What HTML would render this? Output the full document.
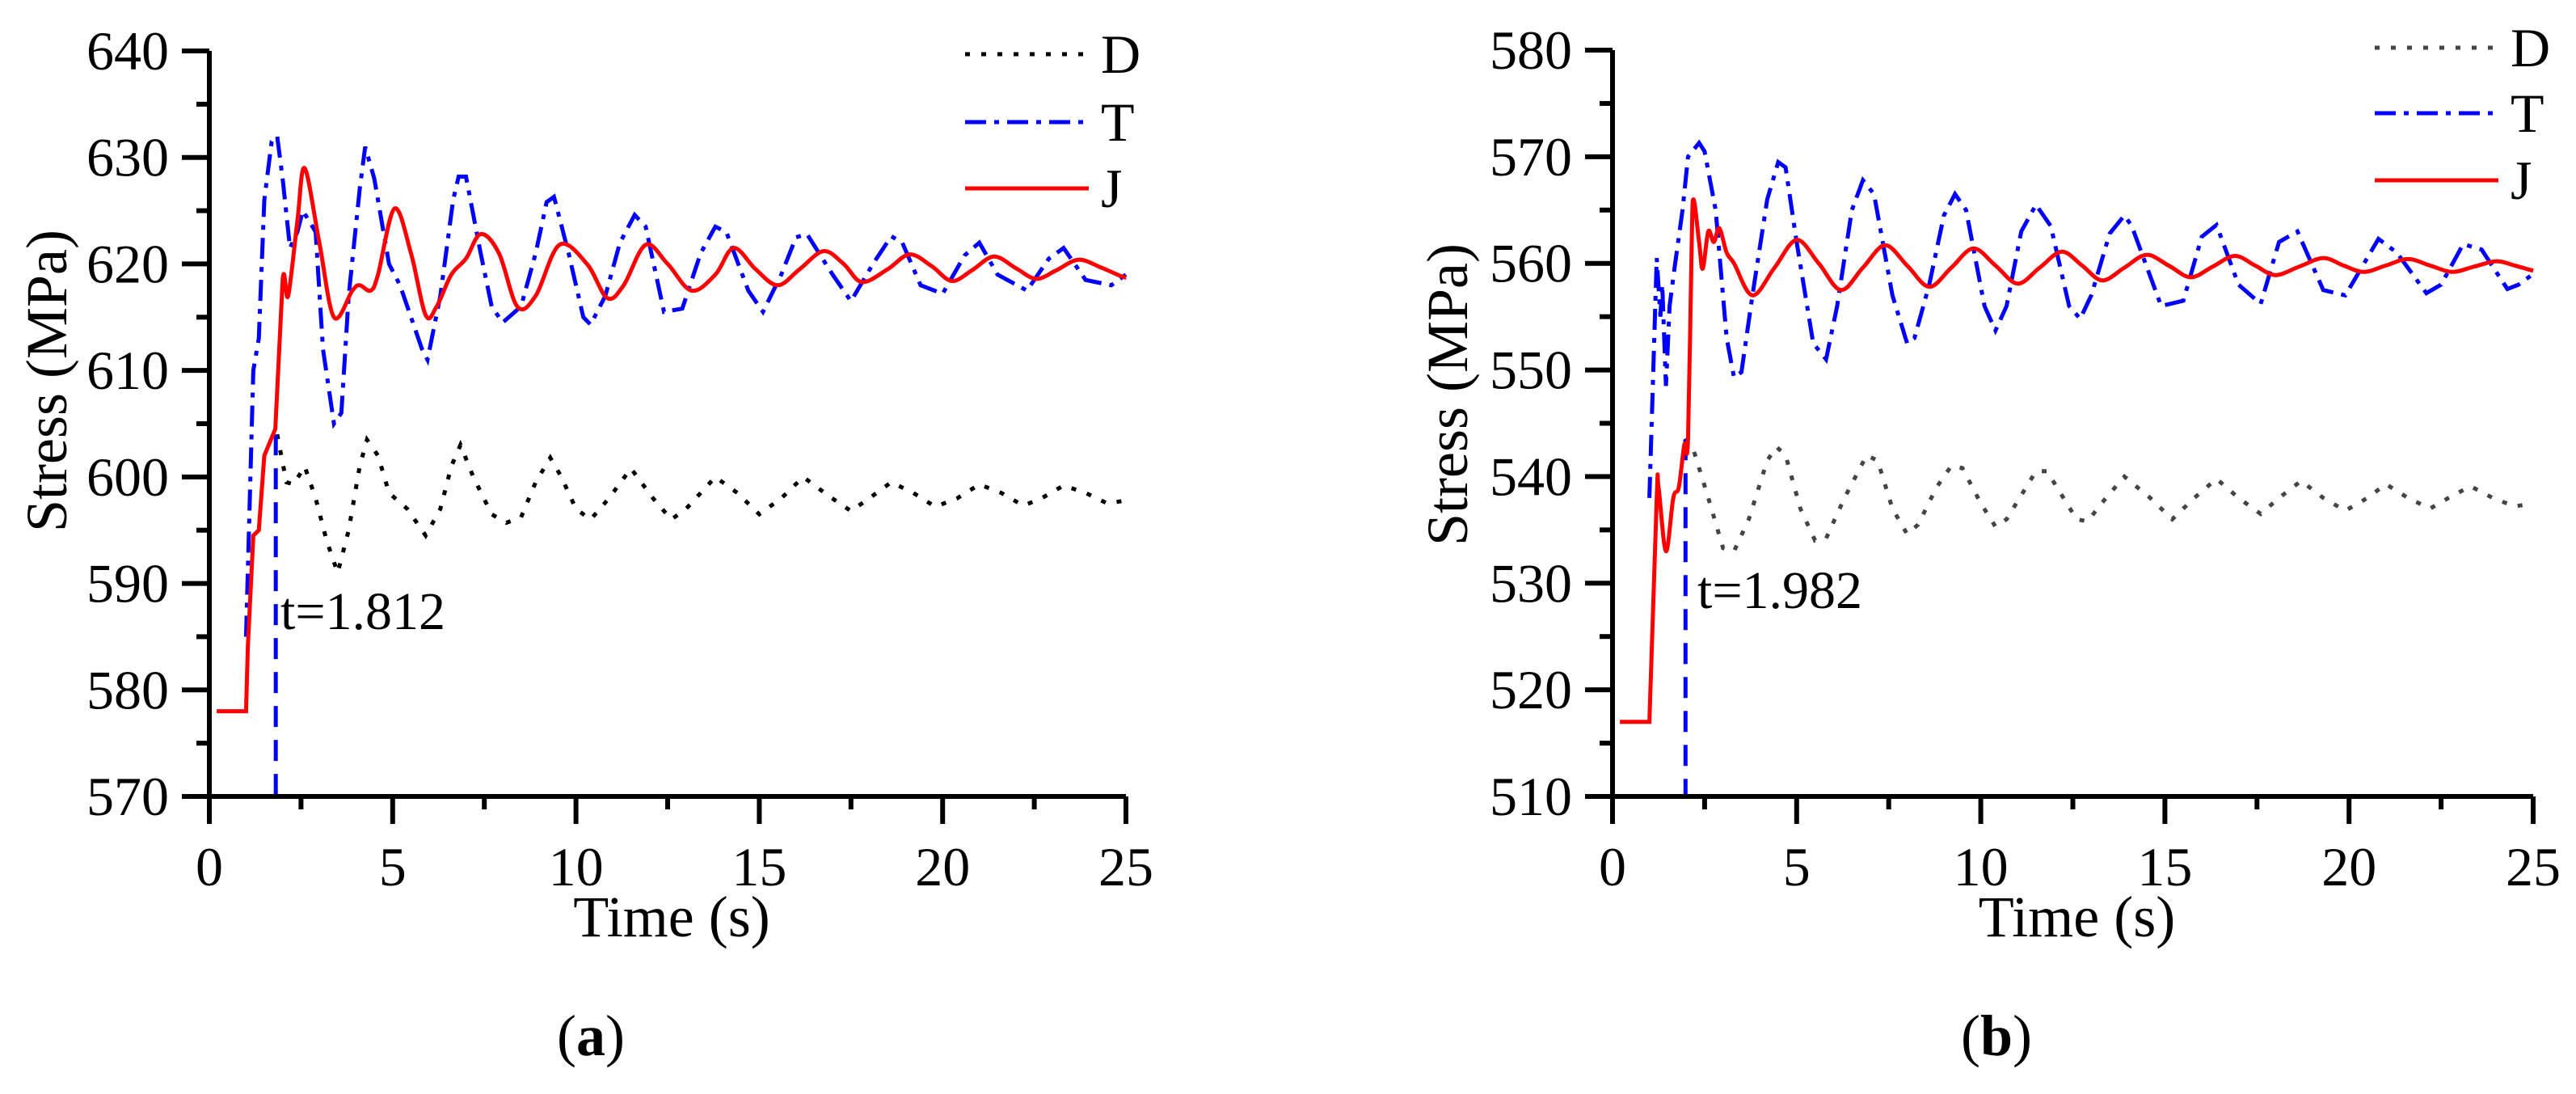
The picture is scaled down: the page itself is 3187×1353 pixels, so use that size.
<!DOCTYPE html>
<html><head><meta charset="utf-8"><style>
html,body{margin:0;padding:0;background:#fff;}
svg{display:block;}
svg text{font-family:"Liberation Serif","Times New Roman",serif;}
</style></head><body>
<svg id="chart" width="3187" height="1353" viewBox="0 0 3187 1353" xmlns="http://www.w3.org/2000/svg" font-family="Liberation Serif, serif"></svg>
<script>
// ---- Panel (a) data ----
const aJ_t=[0.2,1.0,1.05,1.2,1.35,1.5,1.8,2.0,2.15,2.4,2.6,3.0,3.4,3.9,4.1,4.4,4.6,5.05,5.5,5.9,6.2,6.6,7.0,7.4,7.9,8.4,8.9,9.55,10.3,10.85,11.3,11.9,12.5,13.15,13.8,14.3,14.9,15.5,16.1,16.75,17.3,17.8,18.5,19.1,19.7,20.25,20.8,21.4,22.0,22.55,23.1,23.7,24.3,24.9,25];
const aJ_v=[578,578,584,594.5,595,602,604.5,618.5,617,624,629,622,615,617.5,618,617.5,619,625.2,621,615.2,616,619,620.5,622.8,621,616,617,621.8,620,616.8,618,621.8,620,617.5,619,621.5,619.5,618,619.5,621.2,620,618.3,619.5,620.9,619.8,618.4,619.4,620.7,619.6,618.6,619.4,620.4,619.7,618.8,618.8];
const aT_t=[1.0,1.2,1.35,1.5,1.7,1.85,2.0,2.2,2.4,2.55,2.9,3.1,3.4,3.6,3.8,4.1,4.25,4.5,4.9,5.2,5.8,5.95,6.3,6.65,6.8,7.0,7.4,7.7,8.0,8.5,8.9,9.2,9.4,9.8,10.2,10.4,10.8,11.2,11.6,11.9,12.4,12.9,13.4,13.8,14.1,14.7,15.1,15.6,16.0,16.3,17.0,17.5,18.1,18.6,18.9,19.4,20.0,20.6,21.0,21.5,22.3,22.9,23.3,23.9,24.6,25];
const aT_v=[585,610,613,626,631.5,632,628,621.5,623,625,623,612,605,606,617,627,631,628,620,618,612,611,617,626,628.2,628.2,621,616,614.5,616,621,625.8,626.3,621,615,614.3,617,622,624.6,623.5,615.5,615.8,621,623.5,623,617.5,615.5,619,622.5,622.8,619,616.5,620,622.6,622,618,617.2,620.8,622,619,617.5,620.5,621.5,618.5,618,619];
const aD_t=[1.85,2.1,2.3,2.6,2.9,3.2,3.5,3.8,4.1,4.3,4.6,4.9,5.4,5.9,6.3,6.6,6.85,7.2,7.7,8.1,8.5,8.9,9.3,9.6,10.0,10.4,10.9,11.5,12.1,12.6,13.0,13.8,14.4,15.0,15.6,16.2,16.9,17.5,18.0,18.6,19.2,19.8,20.4,21.0,21.6,22.2,22.7,23.3,23.9,24.5,25];
const aD_v=[604,599.5,599.3,601,598,594,591,595,601,603.5,602,598.5,597,594.5,597,601,603,600,596.5,595.7,596.2,599.5,601.8,600,597,596,598,600.8,598,596,597,600,598.5,596.5,598,600,598.2,596.8,598,599.5,598.5,597.2,598,599.3,598.5,597.3,598,599.2,598.5,597.5,597.8];
// ---- Panel (b) data ----
const bJ_t=[0.2,1.0,1.2,1.25,1.45,1.65,1.8,1.95,2.05,2.15,2.2,2.35,2.45,2.6,2.75,2.9,3.1,3.3,3.8,4.4,5.0,5.6,6.2,6.8,7.4,8.0,8.6,9.2,9.8,10.4,11.0,11.6,12.2,12.75,13.3,13.9,14.5,15.1,15.7,16.3,16.9,17.45,18.0,18.65,19.3,19.85,20.4,21.0,21.6,22.2,22.8,23.4,24.0,24.5,25];
const bJ_v=[517,517,538,539,533,538,539,543,543.5,562,566,562,559.5,563,562,563.3,561,560,557,559.6,562.2,560,557.5,559.6,561.7,559.8,557.8,559.6,561.4,559.8,558.1,559.6,561.1,559.8,558.4,559.6,560.8,559.8,558.7,559.7,560.7,559.8,558.9,559.7,560.5,559.8,559.2,559.8,560.4,559.8,559.2,559.7,560.2,559.8,559.3];
const bT_t=[1.0,1.2,1.3,1.35,1.45,1.55,1.7,1.9,2.05,2.35,2.5,2.8,3.1,3.3,3.5,3.8,4.2,4.5,4.7,5.0,5.45,5.8,6.1,6.5,6.8,7.1,7.6,8.0,8.2,8.6,9.0,9.3,9.6,10.1,10.4,10.7,11.1,11.5,11.9,12.4,12.7,13.0,13.5,13.9,14.1,14.9,15.5,16.0,16.4,17.0,17.6,18.1,18.6,19.3,19.9,20.8,21.3,22.1,22.5,23.1,23.6,24.3,24.6,25];
const bT_v=[538,560.5,555,558,548.5,556,560,565,570,571.3,570.5,565,553,549.3,549.8,557,566,569.5,569,562,552.5,551,556,565,567.8,566.5,557,552.5,553,558,564.5,566.5,565,556,553.7,556,563,565.5,563.5,556,554.8,557,562.8,564.5,563.5,556,556.5,562.5,563.6,558,556.2,562,563,557.5,557,562.3,561,557.2,558,561.8,561.3,557.6,558,559];
const bD_t=[1.95,2.2,2.6,3.0,3.3,3.7,4.2,4.45,4.7,5.1,5.5,5.8,6.3,6.9,7.2,7.6,8.0,8.3,8.8,9.2,9.5,10.0,10.4,10.7,11.5,11.8,12.6,12.9,13.4,13.9,14.6,15.2,15.8,16.4,17.0,17.6,18.1,18.7,19.3,19.9,20.5,21.0,21.6,22.2,22.7,23.3,23.9,24.5,25];
const bD_v=[543.5,542.5,538,533.3,533,536,541.5,542.8,542,537,534,534.2,538,542,541.5,537,534.6,535.5,539,541,540.8,537.5,535.3,536,540.5,540.5,536,535.8,538,540,538,536,538,539.8,538,536.5,538,539.6,538,536.8,538,539.3,538,537,538,539.1,538,537.2,537.5];
const aYTicks=[570,580,590,600,610,620,630,640];
const bYTicks=[510,520,530,540,550,560,570,580];
const xTicks=[0,5,10,15,20,25];

const NS='http://www.w3.org/2000/svg';
const svg=document.getElementById('chart');
const FONT='"Liberation Serif", "Times New Roman", serif';
function mk(tag,attrs,parent){const e=document.createElementNS(NS,tag);for(const k in attrs)e.setAttribute(k,attrs[k]);if(tag==='text')e.style.fontFamily=FONT;(parent||svg).appendChild(e);return e;}

function panel(o){
  const g=mk('g',{});
  
  
  const X=t=>o.x0+(t-0)/25*(o.x1-o.x0);
  const Y=v=>o.yb-(v-o.ymin)/(o.ymax-o.ymin)*(o.yb-o.yt);
  const path=(ts,vs,smoothFrom)=>{
    const p=ts.map((t,i)=>[X(t),Y(vs[i])]);
    let d='M'+p[0][0].toFixed(1)+','+p[0][1].toFixed(1);
    for(let i=0;i<p.length-1;i++){
      const p1=p[i],p2=p[i+1];
      if(ts[i]<smoothFrom){d+=` L${p2[0].toFixed(1)},${p2[1].toFixed(1)}`;continue;}
      const p0=p[Math.max(0,i-1)],p3=p[Math.min(p.length-1,i+2)];
      const c1=[p1[0]+(p2[0]-p0[0])/6,p1[1]+(p2[1]-p0[1])/6];
      const c2=[p2[0]-(p3[0]-p1[0])/6,p2[1]-(p3[1]-p1[1])/6];
      d+=` C${c1[0].toFixed(1)},${c1[1].toFixed(1)} ${c2[0].toFixed(1)},${c2[1].toFixed(1)} ${p2[0].toFixed(1)},${p2[1].toFixed(1)}`;
    }
    return d;
  };
  const d=mk('path',{d:path(o.Dt,o.Dv,99),fill:'none',stroke:o.dColor,'stroke-width':5,'stroke-dasharray':'6 14'},g);
  
  
  const vl=mk('line',{x1:X(o.tMark),x2:X(o.tMark),y1:Y(o.vMark),y2:o.yb,stroke:'#0000ff','stroke-width':5,'stroke-dasharray':'26 16'},g);
  
  
  const tl=mk('path',{d:path(o.Tt,o.Tv,99),fill:'none',stroke:'#0000ff','stroke-width':5,'stroke-dasharray':'26 10 6 10'},g);
  
  
  const jl=mk('path',{d:path(o.Jt,o.Jv,o.smoothFrom),fill:'none',stroke:'#ff0000','stroke-width':5},g);
  
  
  const ax=mk('path',{d:`M${o.x0},${o.yt} L${o.x0},${o.yb} L${o.x1},${o.yb}`,fill:'none',stroke:'#000','stroke-width':6},g);
  
  
  o.yTicks.forEach((v,i)=>{
    mk('line',{x1:o.x0-34,x2:o.x0,y1:Y(v),y2:Y(v),stroke:'#000','stroke-width':6},g);
    if(i<o.yTicks.length-1){const m=(v+o.yTicks[i+1])/2;mk('line',{x1:o.x0-16,x2:o.x0,y1:Y(m),y2:Y(m),stroke:'#000','stroke-width':6},g);}
    const t=mk('text',{x:o.x0-50,y:Y(v)+23,'font-size':68,'text-anchor':'end'},g);
    t.textContent=v;
    
    
  });
  xTicks.forEach((v,i)=>{
    mk('line',{x1:X(v),x2:X(v),y1:o.yb,y2:o.yb+34,stroke:'#000','stroke-width':6},g);
    if(i<xTicks.length-1){const m=(v+xTicks[i+1])/2;mk('line',{x1:X(m),x2:X(m),y1:o.yb,y2:o.yb+16,stroke:'#000','stroke-width':6},g);}
    const t=mk('text',{x:X(v),y:o.yb+110,'font-size':68,'text-anchor':'middle'},g);
    t.textContent=v;
    
    
  });
  const xt=mk('text',{x:(o.x0+o.x1)/2+5,y:1158,'font-size':72,'text-anchor':'middle'},g);
  xt.textContent='Time (s)';
  
  
  const yt=mk('text',{x:0,y:0,'font-size':72,'text-anchor':'middle',transform:`translate(${o.ylx},${o.yly}) rotate(-90)`},g);
  yt.textContent='Stress (MPa)';
  
  
  const an=mk('text',{x:o.annX,y:o.annY,'font-size':66},g);
  an.textContent=o.ann;
  
  
  const lg=[['D',o.dColor,'6 14',o.lgY[0]],['T','#0000ff','26 10 6 10',o.lgY[1]],['J','#ff0000','none',o.lgY[2]]];
  lg.forEach(l=>{
    const e=mk('g',{},g);
    
    
    mk('line',{x1:o.lgX,x2:o.lgX+153,y1:l[3],y2:l[3],stroke:l[1],'stroke-width':5,'stroke-dasharray':l[2]},e);
    const t=mk('text',{x:o.lgX+168,y:l[3]+23,'font-size':68},e);
    t.textContent=l[0];
  });
  const cap=mk('text',{x:o.capX,y:1305,'font-size':72,'text-anchor':'middle'},g);
  cap.innerHTML='(<tspan font-weight="bold">'+o.cap+'</tspan>)';
  
  
}
panel({id:'a',x0:259,x1:1393,yt:63,yb:985,ymin:570,ymax:640,yTicks:aYTicks,
  Jt:aJ_t,Jv:aJ_v,Tt:aT_t,Tv:aT_v,Dt:aD_t,Dv:aD_v,dColor:'#000',tMark:1.812,vMark:604,smoothFrom:2.0,
  ylx:82,yly:471,ann:'t=1.812',annX:347,annY:778,lgX:1194,lgY:[67,151,233],capX:731,cap:'a'});
panel({id:'b',x0:1995,x1:3134,yt:62,yb:985,ymin:510,ymax:580,yTicks:bYTicks,
  Jt:bJ_t,Jv:bJ_v,Tt:bT_t,Tv:bT_v,Dt:bD_t,Dv:bD_v,dColor:'#444',tMark:1.982,vMark:543.5,smoothFrom:1.2,
  ylx:1815,yly:488,ann:'t=1.982',annX:2100,annY:752,lgX:2938,lgY:[59,140,223],capX:2470,cap:'b'});
</script>
</body></html>
